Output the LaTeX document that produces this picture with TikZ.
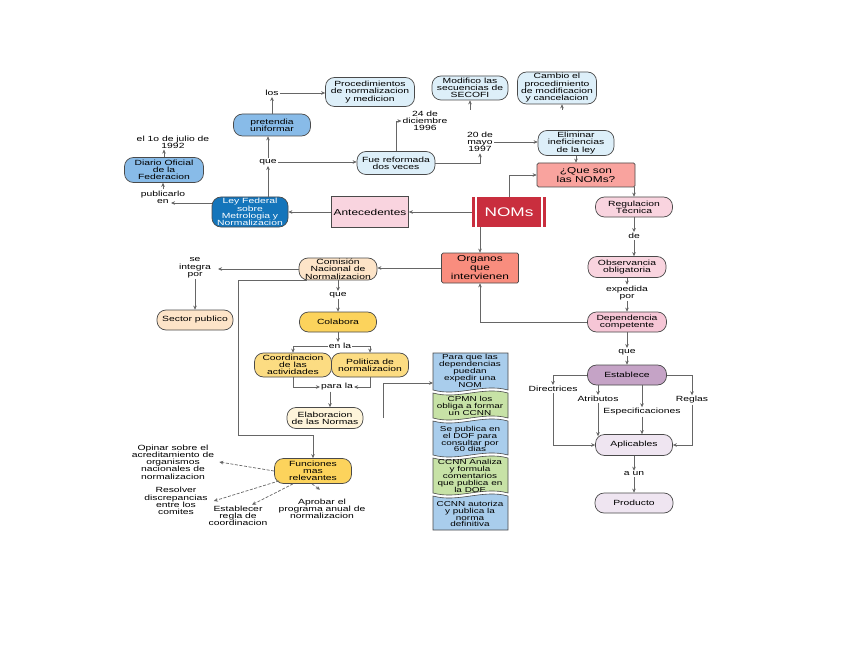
\documentclass[tikz,border=0pt]{standalone}
\usepackage{fontspec}
\setmainfont{Liberation Sans}[FakeStretch=1.38]
\usetikzlibrary{arrows.meta}
\newcommand\fs{\fontsize{7.5}{7.3}\selectfont}
\newcommand\fsban{\fontsize{7.2}{6.9}\selectfont}
\newcommand\fsb{\fontsize{8.6}{9}\selectfont}
\newcommand\fsn{\fontsize{12.5}{14}\selectfont}
\definecolor{bordc}{HTML}{4A4A4A}
\definecolor{arrc}{HTML}{666666}
\definecolor{cpale}{HTML}{DDEFF9}
\definecolor{cblue}{HTML}{88BBE8}
\definecolor{cdblue}{HTML}{1475BB}
\definecolor{cpink}{HTML}{F9D4DF}
\definecolor{cpinkb}{HTML}{F6C6D6}
\definecolor{csalmon}{HTML}{F9A39E}
\definecolor{corg}{HTML}{F98D7E}
\definecolor{cred}{HTML}{C92E3E}
\definecolor{cpeach}{HTML}{FDE4C8}
\definecolor{cyel}{HTML}{FCD35C}
\definecolor{cyelb}{HTML}{FCDC82}
\definecolor{ccream}{HTML}{FEF4DA}
\definecolor{cpurp}{HTML}{C5A3C6}
\definecolor{clav}{HTML}{EFE5F1}
\definecolor{bblue}{HTML}{A9CDEC}
\definecolor{bgreen}{HTML}{C7E2A6}
\tikzset{
 box/.style={draw=bordc, line width=0.7pt, rounded corners=9pt, align=center, inner sep=0pt, font=\fs},
 sqbox/.style={box, rounded corners=1.5pt},
 sz/.style 2 args={minimum width=#1pt, minimum height=#2pt},
 lbl/.style={align=center, font=\fs, inner sep=1pt},
 ar/.style={draw=arrc, line width=0.7pt, -{Stealth[length=4pt,width=3.6pt]}},
 dar/.style={ar, dash pattern=on 3pt off 1.6pt},
 ban/.style={draw=bordc, line width=0.6pt},
 bantxt/.style={align=center, font=\fsban, inner sep=0pt, minimum width=75pt},
}
\begin{document}
\begin{tikzpicture}[x=1pt,y=-1pt]
\fill[white] (0,0) rectangle (848,655);
\useasboundingbox (0,0) rectangle (848,655);

% ---------- top / left part ----------
\node[box, fill=cpale, sz={89}{29}] (proc) at (370,92) {Procedimientos\\de normalizacion\\y medicion};
\node[box, fill=cpale, sz={76}{24}] (modif) at (470,88) {Modifico las\\secuencias de\\SECOFI};
\node[box, fill=cpale, sz={79}{32}] (cambio) at (557,88) {Cambio el\\procedimiento\\de modificacion\\y cancelacion};
\node[lbl] (los) at (272,93) {los};
\node[box, fill=cblue, sz={77}{22}] (pret) at (272,125) {pretendia\\uniformar};
\node[lbl] (que1) at (268,162) {que};
\node[box, fill=cblue, sz={79}{25}] (diario) at (164,170) {Diario Oficial\\de la\\Federacion};
\node[lbl] (julio) at (173,142) {el 1o de julio de\\1992};
\node[lbl] (publ) at (163,197) {publicarlo\\en};
\node[box, fill=cdblue, text=white, sz={76}{30}] (ley) at (250,212) {Ley Federal\\sobre\\Metrologia y\\Normalizacion};
\node[box, fill=cpale, sz={78}{23}] (fue) at (396,163) {Fue reformada\\dos veces};
\node[lbl] (dic) at (425,121) {24 de\\diciembre\\1996};
\node[lbl] (mayo) at (480,142) {20 de\\mayo\\1997};
\node[box, fill=cpale, sz={76}{25}] (elim) at (576,143) {Eliminar\\ineficiencias\\de la ley};
\node[sqbox, fill=csalmon, font=\fsb, sz={98}{24}] (queson) at (586,175) {¿Que son\\las NOMs?};
\node[fill=cred, text=white, font=\fsn, inner sep=0pt, sz={74}{30}] (noms) at (509,212) {NOMs};
\draw[white, line width=1.6pt] ([xshift=4pt]noms.north west) -- ([xshift=4pt]noms.south west);
\draw[white, line width=1.6pt] ([xshift=-4pt]noms.north east) -- ([xshift=-4pt]noms.south east);
\node[box, rounded corners=0pt, fill=cpink, font=\fsb, sz={77}{31}] (antec) at (370,212) {Antecedentes};

% ---------- right column ----------
\node[box, fill=cpink, sz={77}{20}] (reg) at (634,207) {Regulacion\\Técnica};
\node[lbl] (de) at (634,236) {de};
\node[box, fill=cpink, sz={78}{21}] (obs) at (627,267) {Observancia\\obligatoria};
\node[lbl] (exped) at (627,293) {expedida\\por};
\node[box, fill=cpinkb, sz={79}{20}] (dep) at (627,322) {Dependencia\\competente};
\node[lbl] (que2) at (627,352) {que};
\node[box, fill=cpurp, sz={79}{20}] (est) at (627,375) {Establece};
\node[lbl] (dir) at (553,389) {Directrices};
\node[lbl] (atr) at (598,399) {Atributos};
\node[lbl] (esp) at (642,412) {Especificaciones};
\node[lbl] (regl) at (692,400) {Reglas};
\node[box, fill=clav, sz={77}{21}] (apl) at (634,445) {Aplicables};
\node[lbl] (aun) at (634,474) {a un};
\node[box, fill=clav, sz={78}{20}] (prod) at (634,503) {Producto};

% ---------- middle / lower part ----------
\node[sqbox, fill=corg, font=\fsb, sz={77}{30}] (org) at (480,268) {Organos\\que\\intervienen};
\node[box, fill=cpeach, sz={78}{22}] (com) at (338,269) {Comisión\\Nacional de\\Normalizacion};
\node[lbl] (integ) at (195,268) {se\\integra\\por};
\node[box, fill=cpeach, sz={76}{20}] (sector) at (195,320) {Sector publico};
\node[lbl] (que3) at (338,295) {que};
\node[box, fill=cyel, sz={77}{20}] (colab) at (338,322) {Colabora};
\node[lbl] (enla) at (340,346) {en la};
\node[box, fill=cyelb, sz={77}{24}] (coord) at (293,365) {Coordinacion\\de las\\actividades};
\node[box, fill=cyelb, sz={77}{24}] (pol) at (370,365) {Politica de\\normalizacion};
\node[lbl] (parala) at (337,387) {para la};
\node[box, fill=ccream, sz={76}{21}] (elab) at (325,418) {Elaboracion\\de las Normas};
\node[box, fill=cyel, sz={77}{25}] (func) at (313,471) {Funciones\\mas\\relevantes};
\node[lbl] (opinar) at (173,462) {Opinar sobre el\\acreditamiento de\\organismos\\nacionales de\\normalizacion};
\node[lbl] (resol) at (176,501) {Resolver\\discrepancias\\entre los\\comites};
\node[lbl] (estab) at (238,516) {Establecer\\regla de\\coordinacion};
\node[lbl] (aprob) at (322,509) {Aprobar el\\programa anual de\\normalizacion};

% ---------- banners ----------
\filldraw[ban, fill=bblue] (433,353) -- (508,353) -- (508,390) .. controls (483,383) and (458,397) .. (433,390) -- cycle;
\filldraw[ban, fill=bgreen] (433,393) .. controls (458,400) and (483,386) .. (508,393) -- (508,418) .. controls (483,411) and (458,425) .. (433,418) -- cycle;
\filldraw[ban, fill=bblue] (433,421) .. controls (458,428) and (483,414) .. (508,421) -- (508,455) .. controls (483,448) and (458,462) .. (433,455) -- cycle;
\filldraw[ban, fill=bgreen] (433,458) .. controls (458,465) and (483,451) .. (508,458) -- (508,493) .. controls (483,486) and (458,500) .. (433,493) -- cycle;
\filldraw[ban, fill=bblue] (433,496) .. controls (458,503) and (483,489) .. (508,496) -- (508,530) -- (433,530) -- cycle;
\node[bantxt] (b1) at (470,371) {Para que las\\dependencias\\puedan\\expedir una\\NOM};
\node[bantxt] (b2) at (470,406) {CPMN los\\obliga a formar\\un CCNN};
\node[bantxt] (b3) at (470,439) {Se publica en\\el DOF para\\consultar por\\60 dias};
\node[bantxt] (b4) at (470,476) {CCNN Analiza\\y formula\\comentarios\\que publica en\\la DOF};
\node[bantxt] (b5) at (470,514) {CCNN autoriza\\y publica la\\norma\\definitiva};

% ---------- coordinates for free ends ----------
\coordinate (m1) at (470,110);
\coordinate (c1) at (562,110);
\coordinate (pe) at (171,203);
\coordinate (e1) at (383,418);
\coordinate (b1in) at (433,383);

% ---------- connectors ----------
\draw[ar] (pret.north) -- (los.south);
\draw[ar] (los.east) -- (los.east -| proc.west);
\draw[ar] (que1.north) -- (que1.north |- pret.south);
\draw[ar] (ley.north -| que1) -- (que1.south);
\draw[ar] (que1.east) -- (que1.east -| fue.west);
\draw[ar] (fue.north) |- (dic.west);
\draw[ar] (fue.east) -| (mayo.south);
\draw[ar] (mayo.east) -- (mayo.east -| elim.west);
\draw[ar] (m1) -- (modif.south);
\draw[ar] (c1) -- (c1 |- cambio.south);
\draw[ar] (elim.south) -- (elim.south |- queson.north);
\draw[ar] (noms.north) |- (queson.west);
\draw[ar] (reg.north |- queson.south) -- (reg.north);
\draw[ar] (reg.south) -- (de.north);
\draw[ar] (de.south) -- (de.south |- obs.north);
\draw[ar] (obs.south) -- (exped.north);
\draw[ar] (exped.south) -- (dep.north);
\draw[ar] (dep.west) -| (org.south);
\draw[ar] (dep.south) -- (que2.north);
\draw[ar] (que2.south) -- (est.north);
\draw[ar] (est.west) -| (dir.north);
\draw[ar] (est.south -| atr) -- (atr.north);
\draw[ar] (est.south -| esp) -- (esp.north);
\draw[ar] (est.east) -| (regl.north);
\draw[ar] (dir.south) |- (apl.west);
\draw[ar] (atr.south) -- ([yshift=-2pt]atr.south |- apl.north);
\draw[ar] (esp.south) -- (esp.south |- apl.north);
\draw[ar] (regl.south) |- (apl.east);
\draw[ar] (apl.south) -- (aun.north);
\draw[ar] (aun.south) -- (prod.north);
\draw[ar] (noms.west) -- (antec.east);
\draw[ar] (antec.west) -- (ley.east);
\draw[ar] ([yshift=9pt]ley.west) -- (pe);
\draw[ar] (publ.north) -- (publ.north |- diario.south);
\draw[ar] (diario.north) -- (diario.north |- julio.south);
\draw[ar] (noms.south -| org) -- (org.north);
\draw[ar] (org.west) -- (org.west -| com.east);
\draw[ar] (com.west) -- ([xshift=6pt]com.west -| integ.east);
\draw[ar] (integ.south) -- (sector.north);
\draw[ar] (com.south) -- (que3.north);
\draw[ar] (que3.south) -- (colab.north);
\draw[ar] (colab.south) -- (colab.south |- enla.north);
\draw[ar] (enla.west) -| (coord.north);
\draw[ar] (enla.east) -| (pol.north);
\draw[ar] (coord.south) |- (parala.west);
\draw[ar] (pol.south) |- (parala.east);
\draw[ar] ([xshift=-7pt]parala.south) -- ([xshift=-7pt]parala.south |- elab.north);
\draw[ar] ([xshift=8pt]com.south west) -| (238,435) -| (func.north);
\draw[ar] (e1) |- (b1in);
\draw[dar] (func.west) -- ([xshift=4pt]opinar.east);
\draw[dar] ([xshift=5pt,yshift=3pt]func.south west) -- ([xshift=5pt]resol.east);
\draw[dar] ([xshift=-20pt]func.south) -- ([xshift=14pt]estab.north);
\draw[dar] ([xshift=-1pt]func.south) -- ([xshift=-2pt,yshift=8pt]aprob.north);
\end{tikzpicture}
\end{document}
